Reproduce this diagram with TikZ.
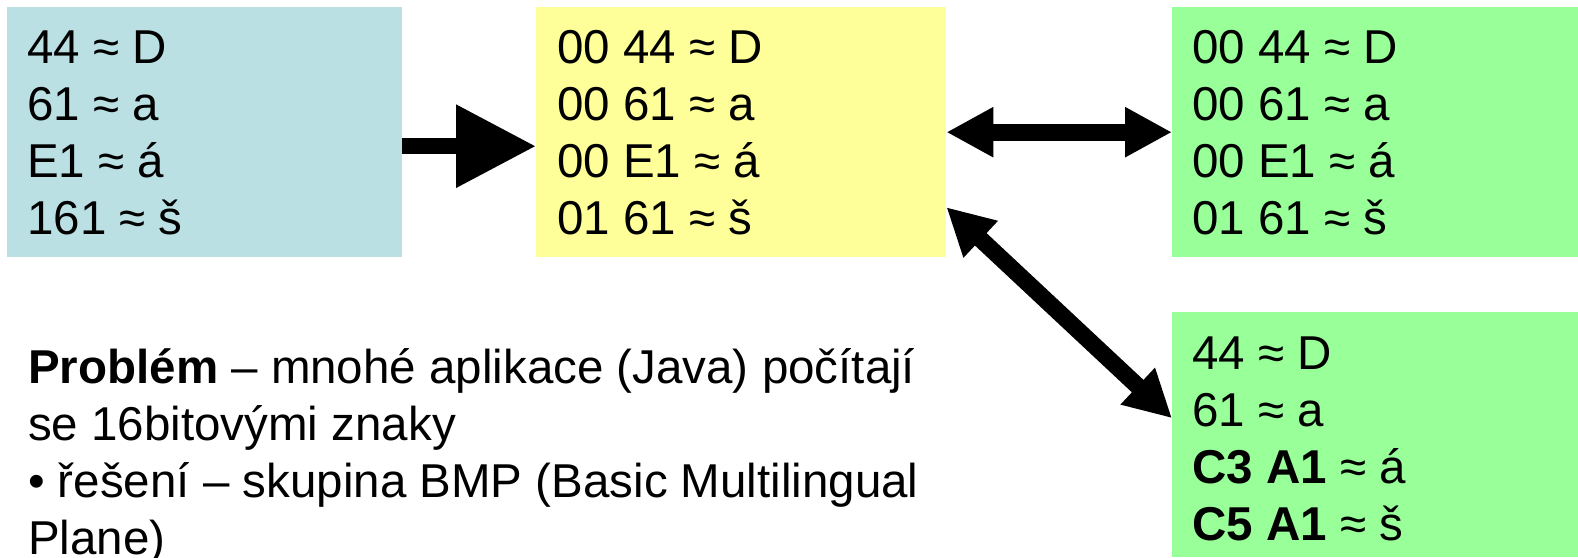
\documentclass[tikz,border=0pt]{standalone}
\usepackage{fontspec}
\setmainfont{Liberation Sans}
\usetikzlibrary{arrows.meta}

\definecolor{boxblue}{HTML}{BBE0E3}
\definecolor{boxyellow}{HTML}{FFFF99}
\definecolor{boxgreen}{HTML}{99FF99}

\begin{document}
\begin{tikzpicture}[x=1pt,y=1pt,
  codebox/.style={anchor=north west,inner sep=0pt,minimum width=#1},
  codes/.style={anchor=base west,align=left,inner sep=0pt,
    font=\fontsize{47.5}{57}\selectfont},
  fat/.style={line width=16pt,-{Triangle[length=80pt,width=79pt]}},
  both/.style={line width=17pt,
    {Triangle[length=47pt,width=47pt]}-{Triangle[length=47pt,width=47pt]}}]
  \useasboundingbox (0,0) rectangle (1578,557);
  % the four coloured boxes
  \node[codebox=395pt,minimum height=250pt,fill=boxblue] (ucs) at (7,550) {};
  \node[codebox=410pt,minimum height=250pt,fill=boxyellow] (utf16) at (536,550) {};
  \node[codebox=406pt,minimum height=250pt,fill=boxgreen] (utf32) at (1172,550) {};
  \node[codebox=406pt,minimum height=245pt,fill=boxgreen] (utf8) at (1172,245) {};
  % code values (base = last line)
  \node[codes] (ucstext) at (27,322) {44 ≈ D\\61 ≈ a\\E1 ≈ á\\161 ≈ š};
  \node[codes] (utf16text) at (557,322) {00 44 ≈ D\\00 61 ≈ a\\00 E1 ≈ á\\01 61 ≈ š};
  \node[codes] (utf32text) at (1192,322) {00 44 ≈ D\\00 61 ≈ a\\00 E1 ≈ á\\01 61 ≈ š};
  \node[codes] (utf8text) at (1192,17) {44 ≈ D\\61 ≈ a\\\textbf{C3 A1} ≈ á\\\textbf{C5 A1} ≈ š};
  % note below
  \node[codes] (note) at (28,3) {\textbf{Problém} – mnohé aplikace (Java) počítají\\
    se 16bitovými znaky\\
    • řešení – skupina BMP (Basic Multilingual\\
    Plane)};
  % arrows
  \draw[fat] ([yshift=-14pt]ucs.east) -- ([yshift=-14pt]utf16.west);
  \draw[both] (utf16.east) -- (utf32.west);
  \draw[both] ([yshift=-75pt]utf16.east) -- ([yshift=16.5pt]utf8.west);
\end{tikzpicture}
\end{document}
